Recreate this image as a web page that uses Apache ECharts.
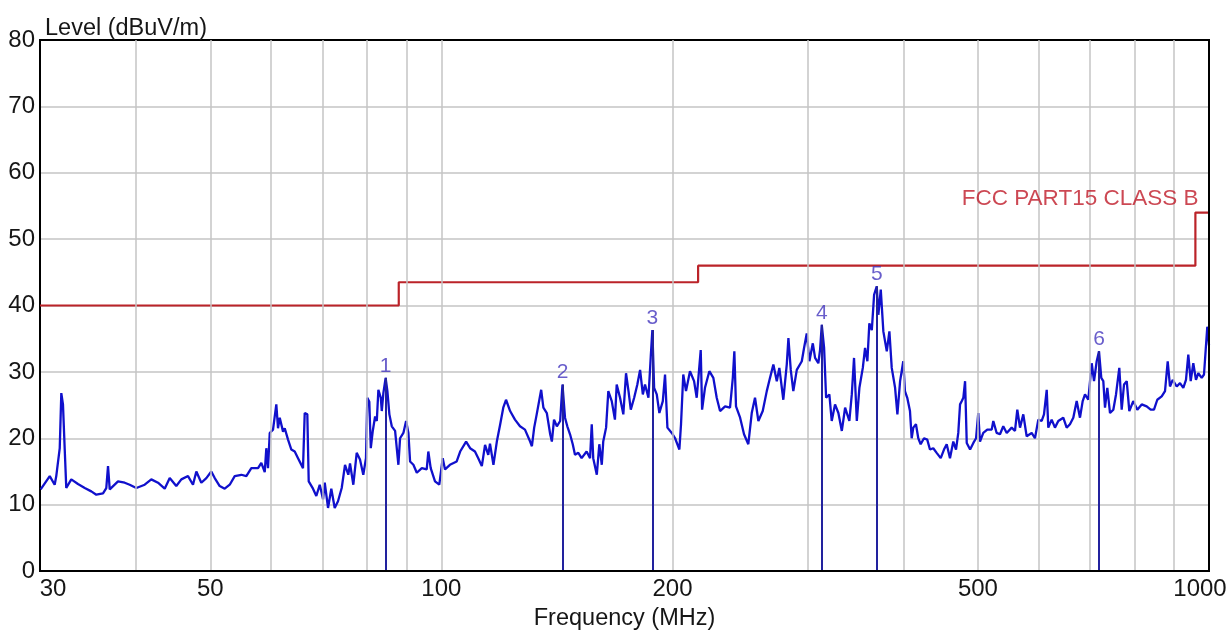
<!DOCTYPE html>
<html><head><meta charset="utf-8">
<script src="https://cdn.jsdelivr.net/npm/echarts@6/dist/echarts.min.js"></script>
<style>html,body{margin:0;padding:0;background:#fff}#c{width:1229px;height:630px}</style>
</head><body><div id="c"></div>
<script>
// Measured trace (frequency MHz, level dBuV/m)
const traceFreq = [
30.06,30.89,31.35,31.50,31.83,31.98,32.14,32.31,32.46,32.95,33.62,34.31,34.99,35.52,36.24,36.60,36.79,36.98,37.91,38.68,
39.26,40.05,41.07,41.89,42.74,43.61,44.27,45.15,45.84,46.77,47.47,47.95,48.67,49.41,50.15,50.67,51.43,52.21,53.00,53.80,
54.88,55.71,56.55,57.70,58.27,58.87,59.15,59.45,59.76,60.35,60.95,61.26,61.58,62.19,62.51,63.13,63.76,64.41,65.05,66.03,
66.37,66.89,67.17,68.04,68.72,69.43,70.12,70.48,71.18,71.88,72.62,73.34,
74.16,74.90,75.64,76.03,76.79,77.57,78.34,79.12,79.76,80.08,80.56,80.92,81.40,81.97,82.39,82.78,83.38,83.63,84.03,84.6,
85.05,85.56,86.18,87.04,87.90,88.35,89.23,89.96,90.58,91.04,91.95,92.89,94.30,95.70,96.16,96.85,98.11,99.38,100.4,101.1,
102.6,104.7,105.8,107.7,109.0,110.6,111.7,112.9,114.0,115.1,115.7,116.9,118.1,119.3,120.4,121.4,122.9,124.7,126.6,128.5,
130.5,131.2,132.1,133.1,134.9,135.8,137.2,138.6,139.3,140.2,141.4,142.8,143.8,144.9,145.9,147.1,148.3,149.3,150.8,152.3,
154.6,156.2,157.0,157.7,159.4,160.6,161.8,162.5,163.9,165.0,166.7,168.3,169.2,
170.9,172.6,174.0,175.3,176.5,178.3,180.0,181.5,183.0,184.2,186.1,187.4,188.3,189.3,190.8,192.3,194.3,195.6,197.0,199.6,
201.6,204.2,205.2,206.6,208.3,210.8,213.4,215.1,217.7,218.6,220.5,223.4,226.1,228.4,230.7,234.2,237.7,239.7,240.8,242.0,
245.0,247.9,251.1,253.7,256.2,258.8,262.2,265.4,268.0,270.7,273.5,275.6,278.9,281.8,283.2,285.2,287.4,290.4,294.8,296.8,
299.2,301.6,304.7,306.8,309.8,311.4,313.0,315.2,317.1,320.2,322.5,325.7,329.0,332.4,335.7,340.0,342.5,344.8,347.7,350.4,
354.0,356.4,358.9,361.0,363.7,366.2,369.1,370.9,373.6,376.5,380.4,383.4,386.1,390.0,392.7,395.9,
399.7,401.7,404.5,407.8,409.9,411.9,415.2,418.1,421.1,425.3,429.5,433.0,437.3,441.8,447.2,451.6,455.3,459.8,464.4,468.2,
471.4,473.9,476.4,478.6,481.1,483.5,488.4,493.2,497.2,500.5,503.1,508.1,514.2,521.1,523.6,528.9,534.2,539.5,545.1,553.3,
558.8,562.7,567.3,572.9,578.7,587.5,593.3,599.3,605.4,609.6,614.6,617.5,623.8,630.0,636.3,645.9,652.5,659.0,665.6,672.4,
679.1,684.6,689.4,696.2,703.4,708.3,714.0,719.0,723.9,728.3,732.0,737.1,743.1,750.5,756.6,764.1,769.6,775.0,781.3,787.4,
796.8,806.5,817.2,829.5,839.5,847.9,856.3,867.7,876.4,883.5,889.6,896.8,907.7,916.7,925.8,933.3,939.8,946.6,954.0,961.7,
968.4,978.3,985.1,990.1,994.9,997.9,1000
];
const traceLevel = [
12.3,14.3,13.0,14.3,18.5,26.8,25.1,18.3,12.5,13.8,13.1,12.5,12.0,11.5,11.7,12.5,15.8,12.3,13.5,13.3,
13.0,12.5,13.0,13.8,13.3,12.4,14.0,12.8,13.8,14.3,13.0,15.0,13.3,14.0,15.0,14.0,12.8,12.4,13.0,14.3,
14.5,14.3,15.5,15.5,16.3,14.9,18.5,15.5,20.8,21.3,25.1,21.5,23.1,21.0,21.5,19.8,18.3,18.0,17.0,15.5,
23.8,23.6,13.5,12.4,11.3,13.0,10.8,13.3,9.5,12.4,9.5,10.5,
12.5,16.0,14.5,16.2,13.0,17.8,16.8,14.5,17.0,26.1,25.5,18.5,21.1,23.3,22.6,27.3,26.1,24.1,26.8,29.1,
27.1,23.6,21.8,21.1,16.0,20.0,20.8,22.6,20.8,16.5,16.0,14.8,15.5,15.3,18.0,15.5,13.5,13.0,17.0,15.3,
16.0,16.5,18.0,19.5,18.5,18.0,17.0,15.8,19.0,17.5,19.2,16.0,19.5,22.1,24.6,25.8,24.1,22.8,21.8,21.3,
19.5,18.8,21.6,23.6,27.3,24.6,23.8,20.6,19.5,22.8,21.8,22.6,28.1,23.1,21.8,20.6,19.1,17.5,17.8,17.0,
18.0,17.0,22.1,17.0,14.5,19.1,16.0,19.5,21.6,27.1,25.6,22.8,28.1,
26.1,23.6,29.8,27.1,24.3,26.1,28.1,30.3,26.6,28.1,26.1,32.3,36.3,27.6,26.6,23.8,25.6,29.6,21.6,20.8,
20.0,18.3,22.1,29.6,27.1,30.1,28.6,26.1,33.3,24.3,27.6,30.1,29.1,26.1,24.1,24.8,24.6,29.1,33.1,24.8,
23.1,20.6,19.1,23.8,26.1,22.6,24.1,27.1,29.1,31.1,28.6,30.6,25.8,31.1,35.1,30.3,27.1,30.3,31.6,33.6,
35.8,31.6,34.3,32.1,31.3,33.3,37.1,33.6,26.1,26.6,22.6,25.1,23.8,21.1,24.6,22.6,26.6,32.1,22.6,27.6,
30.6,33.6,31.6,37.3,36.3,41.6,42.9,38.6,42.4,36.1,33.1,36.1,30.6,27.6,23.6,28.6,
31.6,27.1,26.1,24.1,20.0,21.6,22.1,20.0,19.1,20.0,19.8,18.3,18.5,17.8,17.0,18.3,19.1,17.0,19.5,18.3,
20.8,25.1,25.6,26.1,28.6,19.3,18.3,19.3,20.0,23.8,19.5,20.8,21.3,21.3,22.6,20.8,20.6,21.8,20.8,21.6,
21.1,24.3,21.6,23.6,20.3,20.8,20.0,22.8,22.6,23.6,27.3,21.6,22.8,21.6,22.6,23.1,21.6,22.1,23.1,25.6,
23.1,25.6,26.6,25.8,31.3,28.6,31.6,33.1,29.1,28.6,24.6,27.6,23.8,24.3,26.6,30.6,24.3,28.1,28.6,24.1,
25.6,24.3,25.1,24.8,24.3,24.3,25.8,26.3,27.1,31.6,27.8,28.8,27.8,28.3,27.6,28.8,32.6,28.6,31.3,28.8,
29.8,29.1,29.6,33.3,36.8,35.5,34.0
];
// FCC Part 15 Class B limit
const limitFreq = [30, 88, 88, 216, 216, 960, 960, 1000];
const limitLevel = [40, 40, 43.5, 43.5, 46, 46, 54, 54];
const limitName = 'FCC PART15 CLASS B';
// Markers
const markerFreq = [84.6, 143.8, 188.3, 313.0, 369.1, 719.0];
const markerLevel = [29.1, 28.1, 36.3, 37.1, 42.9, 33.1];
const markerName = ['1', '2', '3', '4', '5', '6'];
// Axis ticks
const gridFreq = [40, 50, 60, 70, 80, 90, 100, 200, 300, 400, 500, 600, 700, 800, 900];
const xTickLabels = [30, 50, 100, 200, 500, 1000];

const FONT = '"Liberation Sans", Arial, sans-serif';
const TXT = '#161616';
const zip = (a, b) => a.map((v, i) => [v, b[i]]);

const chart = echarts.init(document.getElementById('c'), null, { renderer: 'canvas' });
chart.setOption({
  animation: false,
  backgroundColor: '#fff',
  textStyle: { fontFamily: FONT },
  title: {
    text: 'Level (dBuV/m)', left: 40, top: 12,
    textStyle: { fontFamily: FONT, fontSize: 23.5, fontWeight: 'normal', color: TXT }
  },
  grid: {
    left: 40, right: 20, top: 40, bottom: 59, containLabel: false, outerBoundsMode: 'none',
    show: true, borderColor: '#000', borderWidth: 2, backgroundColor: 'transparent'
  },
  xAxis: [{
    type: 'log', logBase: 10, min: 30, max: 1000,
    name: 'Frequency (MHz)', nameLocation: 'middle', nameGap: 36,
    nameTextStyle: { fontFamily: FONT, fontSize: 23.5, color: TXT },
    axisLine: { show: true, lineStyle: { color: '#000', width: 2 } },
    axisTick: { show: false },
    splitLine: { show: false },
    minorTick: { show: false },
    axisLabel: {
      customValues: xTickLabels,
      fontFamily: FONT, fontSize: 24, color: TXT, margin: 6,
      formatter: function (v) {
        if (Math.abs(v - 30) < 0.01) return '{a|30}';
        if (Math.abs(v - 1000) < 0.01) return '{b|1000}';
        return String(Math.round(v));
      },
      rich: {
        a: { fontFamily: FONT, fontSize: 24, color: TXT, padding: [0, 0, 0, 26] },
        b: { fontFamily: FONT, fontSize: 24, color: TXT, padding: [0, 18, 0, 0] }
      }
    }
  }, {
    type: 'log', logBase: 10, min: 30, max: 1000, position: 'top', z: 10,
    axisLine: { show: true, lineStyle: { color: '#000', width: 2 } },
    axisTick: { show: false }, axisLabel: { show: false }, splitLine: { show: false }
  }],
  yAxis: [{
    type: 'value', min: 0, max: 80, interval: 10,
    axisLine: { show: true, lineStyle: { color: '#000', width: 2 } },
    axisTick: { show: false },
    axisLabel: { fontFamily: FONT, fontSize: 24, color: TXT, margin: 5 },
    splitLine: { show: true, showMinLine: false, showMaxLine: false, lineStyle: { color: '#c4c4c4', width: 1.5 } }
  }, {
    type: 'value', min: 0, max: 80, interval: 10, position: 'right', z: 10,
    axisLine: { show: true, lineStyle: { color: '#000', width: 2 } },
    axisTick: { show: false }, axisLabel: { show: false }, splitLine: { show: false }
  }],
  series: [
    {
      name: 'grid', type: 'line', data: [], z: 1, silent: true,
      markLine: {
        silent: true, symbol: ['none', 'none'], animation: false,
        label: { show: false },
        lineStyle: { color: '#c4c4c4', width: 1.5, type: 'solid' },
        data: gridFreq.map(f => ({ xAxis: f }))
      }
    },
    {
      name: limitName, type: 'line', data: zip(limitFreq, limitLevel), z: 3,
      showSymbol: false, symbol: 'none',
      lineStyle: { color: '#bb2329', width: 2.2 }, itemStyle: { color: '#bb2329' }
    },
    {
      name: 'Level', type: 'line', data: zip(traceFreq, traceLevel), z: 4,
      showSymbol: false, symbol: 'none',
      lineStyle: { color: '#1010cc', width: 2.3 }, itemStyle: { color: '#1010cc' }
    },
    {
      name: 'markers', type: 'line', data: [], z: 5, silent: true,
      markLine: {
        silent: true, symbol: ['none', 'none'], animation: false,
        label: { show: false },
        lineStyle: { color: '#22229e', width: 2, type: 'solid' },
        data: markerFreq.map((f, i) => [{ coord: [f, 0] }, { coord: [f, markerLevel[i]] }])
      }
    },
    {
      name: 'markerLabels', type: 'scatter', z: 6, silent: true,
      symbolSize: 1, itemStyle: { color: 'rgba(0,0,0,0)' },
      data: markerFreq.map((f, i) => ({ value: [f, markerLevel[i]], name: markerName[i] })),
      label: { show: true, formatter: '{b}', position: 'top', distance: 1, fontFamily: FONT, fontSize: 21, color: '#4436be' }
    },
    {
      name: 'limitLabel', type: 'scatter', z: 6, silent: true,
      symbolSize: 1, itemStyle: { color: 'rgba(0,0,0,0)' },
      data: [{ value: [limitFreq[limitFreq.length - 1], limitLevel[limitLevel.length - 1]], name: limitName }],
      label: { show: true, formatter: '{b}', position: [-10, -2], align: 'right', verticalAlign: 'bottom', fontFamily: FONT, fontSize: 22.5, color: '#bf1a28' }
    }
  ]
});
</script>
</body></html>
